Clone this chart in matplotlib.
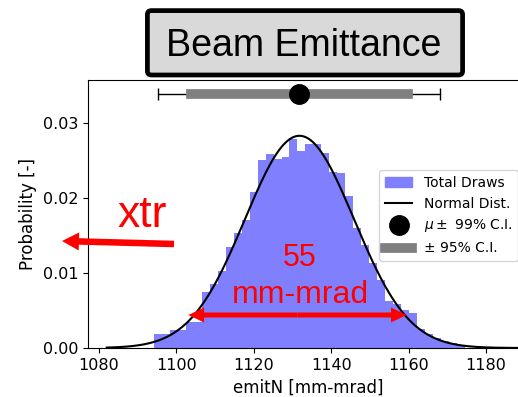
import numpy as np
import matplotlib
matplotlib.use("Agg")
import matplotlib.pyplot as plt
from matplotlib.patches import FancyBboxPatch
from matplotlib.lines import Line2D
from matplotlib.patches import Patch

# histogram of the draws (probability density per bin)
bin_start = 1094.2
bin_width = 2.06
bin_heights = [0.0019, 0.0019, 0.0024, 0.0024, 0.0035, 0.0035, 0.0075, 0.0085,
               0.0102, 0.0135, 0.0153, 0.0171, 0.0208, 0.0250, 0.0259, 0.0252,
               0.0254, 0.0278, 0.0263, 0.0272, 0.0272, 0.0260, 0.0234, 0.0233,
               0.0202, 0.0160, 0.0137, 0.0113, 0.0090, 0.0062, 0.0058, 0.0050,
               0.0046, 0.0025, 0.0019, 0.0013, 0.0009, 0.0007, 0.0004]

# normal fit and confidence intervals
mu = 1131.8
sigma = 14.1
ci99 = (1095.2, 1168.1)
ci95 = (1103.8, 1159.8)
ci_y = 0.0339

# annotation values
width_text = "55"
width_unit = "mm-mrad"
width_span = (1103.1, 1159.5)
width_y = 0.0044

fig = plt.figure(figsize=(5.18, 3.97), dpi=100)
ax = fig.add_axes([88 / 518, 49 / 397, 440 / 518, 268 / 397])

edges = bin_start + bin_width * np.arange(len(bin_heights))
ax.bar(edges, bin_heights, width=bin_width, align='edge', color='#8080ff', linewidth=0)

xs = np.linspace(1082, 1192, 400)
pdf = np.exp(-0.5 * ((xs - mu) / sigma) ** 2) / (sigma * np.sqrt(2 * np.pi))
ax.plot(xs, pdf, color='black', lw=1.5)

# confidence interval markers
ax.errorbar(mu, ci_y, xerr=[[mu - ci99[0]], [ci99[1] - mu]], fmt='none', ecolor='black',
            elinewidth=1, capsize=4.5, capthick=1)
ax.plot(ci95, [ci_y, ci_y], color='gray', lw=7)
ax.plot(mu, ci_y, 'o', color='black', ms=14)

ax.set_xlim(1077.16, 1190.85)
ax.set_ylim(0, 0.03573)
ax.set_xticks([1080, 1100, 1120, 1140, 1160, 1180])
ax.set_yticks([0.00, 0.01, 0.02, 0.03])
ax.tick_params(labelsize=11.5)
ax.set_xlabel("emitN [mm-mrad]", fontsize=12)
ax.set_ylabel("Probability [-]", fontsize=12)

handles = [Patch(color='#8080ff'),
           Line2D([], [], color='black', lw=1.5),
           Line2D([], [], marker='o', color='black', ms=14, ls='none'),
           Line2D([], [], color='gray', lw=7)]
labels = ["Total Draws", "Normal Dist.", r"$\mu\pm$ 99% C.I.", "± 95% C.I."]
ax.legend(handles, labels, loc='upper right', bbox_to_anchor=(0.977, 0.664),
          borderaxespad=0, fontsize=10)

# title box
box = FancyBboxPatch((1.474, 3.22), 3.152, 0.644, boxstyle='round,pad=0,rounding_size=0.04',
                     transform=fig.dpi_scale_trans, facecolor='#d9d9d9', edgecolor='black',
                     lw=3.4, clip_on=False)
fig.patches.append(box)
fig.text(304 / 518, 1 - 56.5 / 397, "Beam Emittance", ha='center', va='baseline',
         fontsize=27, family='Liberation Sans')

# red annotations
red = '#ff0000'
ax.text(1091.2, 0.01617, "xtr", color=red, fontsize=32, ha='center', va='baseline',
        family='Liberation Sans')
ax.annotate('', xy=(62 / 518, 1 - 241 / 397), xytext=(174 / 518, 1 - 244 / 397),
            xycoords='figure fraction', textcoords='figure fraction', annotation_clip=False,
            arrowprops=dict(width=4.7, headwidth=13, headlength=12.2, shrink=0,
                            facecolor=red, edgecolor='none'))
ax.text(1131.9, 0.01097, width_text, color=red, fontsize=22, ha='center', va='baseline',
        family='Liberation Sans')
ax.text(1132.0, 0.00596, width_unit, color=red, fontsize=23, ha='center', va='baseline',
        family='Liberation Sans')
mid = 0.5 * (width_span[0] + width_span[1])
for end in width_span:
    ax.annotate('', xy=(end, width_y), xytext=(mid, width_y),
                arrowprops=dict(width=3.6, headwidth=10.8, headlength=11.3, shrink=0,
                                facecolor=red, edgecolor='none'))

fig.savefig("out.png", dpi=100)
